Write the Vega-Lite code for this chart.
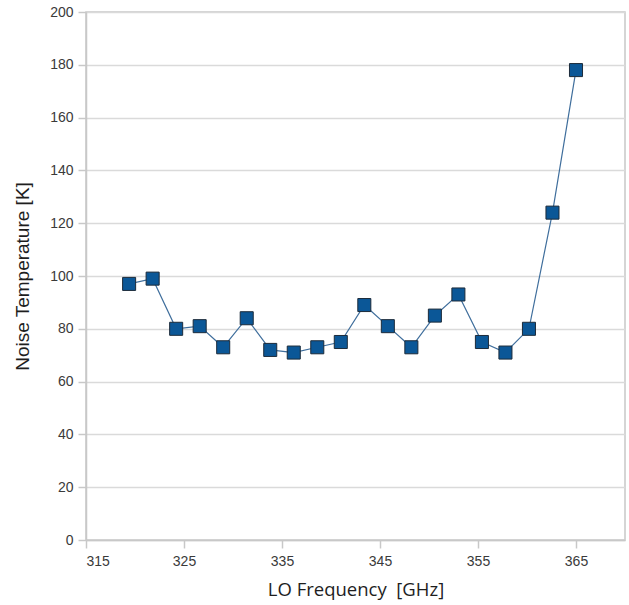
{
  "$schema": "https://vega.github.io/schema/vega-lite/v6.json",
  "autosize": {"type": "none"},
  "padding": {"left": 86, "top": 12, "right": 4, "bottom": 65},
  "width": 539,
  "height": 528,
  "background": "white",
  "config": {
    "view": {"stroke": "#c8c8c8", "strokeWidth": 1.5},
    "axis": {
      "labelFont": "Liberation Sans",
      "labelFontSize": 14,
      "labelColor": "#3a3a3a",
      "titleFontWeight": "normal",
      "titleColor": "#1e1e1e",
      "domainColor": "#c8c8c8",
      "domainWidth": 1.5,
      "tickColor": "#c8c8c8",
      "tickWidth": 1.5,
      "tickSize": 8,
      "gridColor": "#dadada",
      "gridWidth": 1.5
    }
  },
  "data": {
    "values": [
      {"freq": 319.4, "temp": 97},
      {"freq": 321.8, "temp": 99},
      {"freq": 324.2, "temp": 80},
      {"freq": 326.6, "temp": 81},
      {"freq": 329.0, "temp": 73},
      {"freq": 331.4, "temp": 84},
      {"freq": 333.8, "temp": 72},
      {"freq": 336.2, "temp": 71},
      {"freq": 338.6, "temp": 73},
      {"freq": 341.0, "temp": 75},
      {"freq": 343.4, "temp": 89},
      {"freq": 345.8, "temp": 81},
      {"freq": 348.2, "temp": 73},
      {"freq": 350.6, "temp": 85},
      {"freq": 353.0, "temp": 93},
      {"freq": 355.4, "temp": 75},
      {"freq": 357.8, "temp": 71},
      {"freq": 360.2, "temp": 80},
      {"freq": 362.6, "temp": 124},
      {"freq": 365.0, "temp": 178}
    ]
  },
  "encoding": {
    "x": {
      "field": "freq",
      "type": "quantitative",
      "scale": {"domain": [315, 370], "nice": false, "zero": false},
      "axis": {
        "values": [315, 325, 335, 345, 355, 365],
        "grid": false,
        "title": "LO Frequency \u00a0[GHz]",
        "titleFont": "Open Sans",
        "titleFontSize": 18.5,
        "labelPadding": 6,
        "titlePadding": 12
      }
    },
    "y": {
      "field": "temp",
      "type": "quantitative",
      "scale": {"domain": [0, 200], "nice": false},
      "axis": {
        "values": [0, 20, 40, 60, 80, 100, 120, 140, 160, 180, 200],
        "title": "Noise Temperature [K]",
        "titleFont": "Liberation Sans",
        "titleFontSize": 19,
        "labelPadding": 5,
        "titlePadding": 17
      }
    }
  },
  "layer": [
    {"mark": {"type": "line", "color": "#3f6e9c", "strokeWidth": 1.2}},
    {"mark": {"type": "point", "shape": "square", "filled": true, "size": 170, "fill": "#0b5797", "stroke": "#1c2b3a", "strokeWidth": 1, "opacity": 1}}
  ]
}
